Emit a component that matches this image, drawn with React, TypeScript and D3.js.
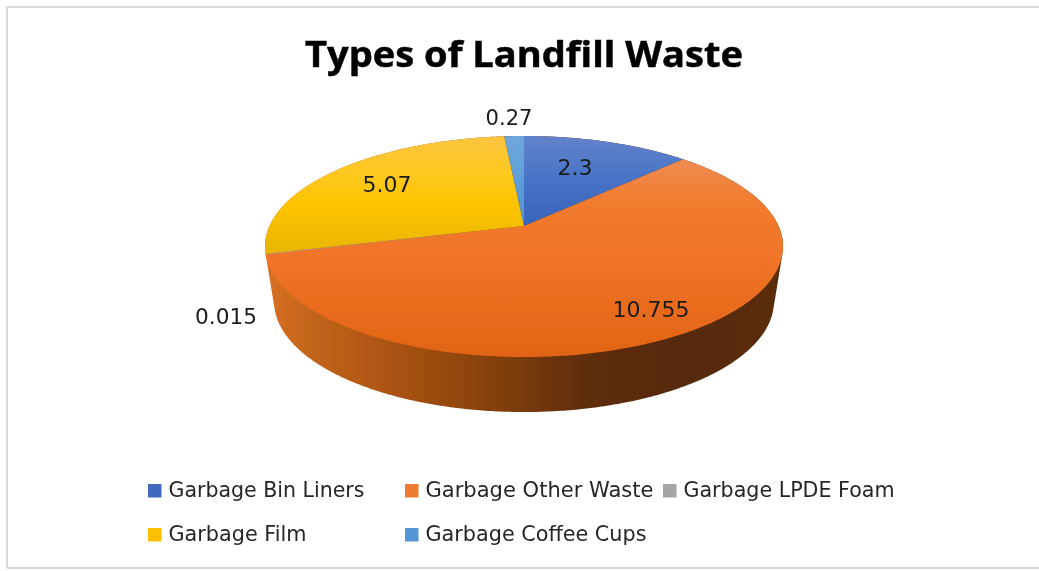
import React from "react";
import * as d3 from "d3";

const W = 1039;
const H = 571;
const title = "Types of Landfill Waste";
const categories = ["Garbage Bin Liners", "Garbage Other Waste", "Garbage LPDE Foam", "Garbage Film", "Garbage Coffee Cups"];
const values = [2.3, 10.755, 0.015, 5.07, 0.27];
const valueLabels = ["2.3", "10.755", "0.015", "5.07", "0.27"];
const swatchColors = ["#3f69bd", "#f07a2e", "#a5a5a5", "#fcc000", "#5596d6"];

// layout (not data)
const labelXY = [[575, 175], [651, 317], [226, 324], [387, 192], [509, 125]];
const legendXY = [[148, 497], [405, 497], [663, 497], [148, 541], [405, 541]];
const legendTextW = [196, 228, 211, 138, 221];
const labelTextW = [35, 77, 62, 49, 47];
const faceStops: [number, string][][] = [
  [[0, "#6283ca"], [0.2, "#4773c6"], [0.45, "#3460b8"], [1, "#2f58aa"]],
  [[0, "#f09a68"], [0.12, "#ee8a50"], [0.3, "#f17b2e"], [0.55, "#f07428"], [1, "#e16414"]],
  [[0, "#b5b5b5"], [1, "#8f8f8f"]],
  [[0, "#fdc53f"], [0.2, "#fec81a"], [0.3, "#fec400"], [0.55, "#e6b400"], [1, "#d8a800"]],
  [[0, "#6ea8dc"], [0.4, "#4f94d4"], [1, "#4a8cc8"]],
];
const wallStops: [number, string][] = [
  [0, "#d97122"], [0.08, "#c4651c"], [0.25, "#ab5312"], [0.45, "#823f0d"], [0.62, "#5f2d0a"], [0.8, "#572a09"], [1, "#5b2d0b"],
];

// Perspective projection of the pie's unit disc
const CX = 524, APEX_Y = 226, KX = 254.5, A = 64.8, C = -0.1855;
const project = (t: number, r = 1, scale = 1, dy = 0): [number, number] => {
  const u = r * Math.sin(t), v = -r * Math.cos(t);
  const d = 1 + C * v;
  return [CX + (scale * KX * u) / d, (A * v + APEX_Y) / d + dy];
};

const pieGen = d3.pie<number>().sort(null).startAngle(0).endAngle(2 * Math.PI);
const arcs = pieGen(values);
const lineGen = d3.line<[number, number]>().x((d) => d[0]).y((d) => d[1]);
const wedge = (a0: number, a1: number) => {
  const n = Math.max(2, Math.ceil((a1 - a0) / 0.01));
  const pts: [number, number][] = [project(0, 0)];
  d3.range(n + 1).forEach((i) => pts.push(project(a0 + ((a1 - a0) * i) / n)));
  return lineGen(pts) + "Z";
};
const circleSamples = d3.range(0, 2 * Math.PI, 0.01);
const hull = d3.polygonHull([
  ...circleSamples.map((t) => project(t)),
  ...circleSamples.map((t) => project(t, 1, 0.965, 55)),
] as [number, number][])!;
const wallPath = lineGen(hull) + "Z";

export default function App() {
  const font = "'DejaVu Sans', sans-serif";
  return (
    <svg width={W} height={H} style={{ position: "absolute", left: 0, top: 0, background: "#fff" }}>
      <defs>
        <filter id="soft" x="-5%" y="-5%" width="110%" height="110%">
          <feGaussianBlur stdDeviation="0.55" />
        </filter>
        <linearGradient id="wall" gradientUnits="userSpaceOnUse" x1={265} x2={783} y1={0} y2={0}>
          {wallStops.map(([o, c], i) => <stop key={i} offset={o} stopColor={c} />)}
        </linearGradient>
        {faceStops.map((stops, i) => (
          <linearGradient key={i} id={`face${i}`} gradientUnits="userSpaceOnUse" x1={0} x2={0} y1={136} y2={357}>
            {stops.map(([o, c], j) => <stop key={j} offset={o} stopColor={c} />)}
          </linearGradient>
        ))}
      </defs>
      <g filter="url(#soft)">
        <path d={`M7 568V7H${W}M7 568H${W}`} fill="none" stroke="#d9d9d9" strokeWidth={2} />
        <text x={524} y={67} textAnchor="middle" textLength={438} lengthAdjust="spacingAndGlyphs"
          fontFamily="'Open Sans', sans-serif" fontWeight={700} fontSize={36} fill="#000" stroke="#000" strokeWidth={0.5}>{title}</text>
        <path d={wallPath} fill="url(#wall)" />
        {arcs.map((a, i) => (
          <path key={i} d={wedge(a.startAngle, a.endAngle)} fill={`url(#face${i})`} />
        ))}
        {valueLabels.map((t, i) => (
          <text key={i} x={labelXY[i][0]} y={labelXY[i][1]} textAnchor="middle" textLength={labelTextW[i]}
            lengthAdjust="spacingAndGlyphs" fontFamily={font} fontSize={21} fill="#1c1c1c">{t}</text>
        ))}
        {categories.map((c, i) => (
          <g key={c}>
            <rect x={legendXY[i][0]} y={legendXY[i][1] - 13} width={13.5} height={13.5} fill={swatchColors[i]} />
            <text x={legendXY[i][0] + 20.5} y={legendXY[i][1]} textLength={legendTextW[i]} lengthAdjust="spacingAndGlyphs"
              fontFamily={font} fontSize={20.5} fill="#262626">{c}</text>
          </g>
        ))}
      </g>
    </svg>
  );
}
